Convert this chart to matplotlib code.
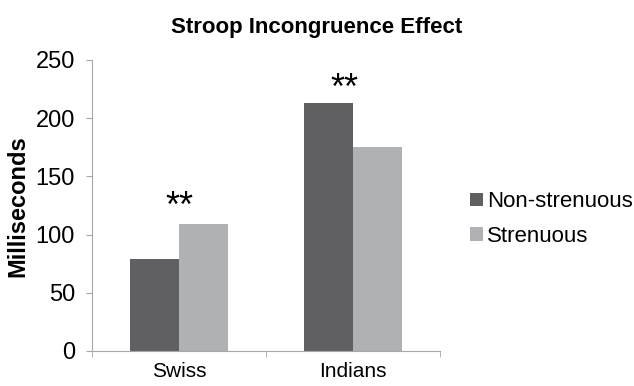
import matplotlib.pyplot as plt
import numpy as np

plt.rcParams['font.family'] = ['Liberation Sans', 'DejaVu Sans']

groups = ["Swiss", "Indians"]
series = ["Non-strenuous", "Strenuous"]
non_strenuous = [79, 213]
strenuous = [109, 175]
stars = ["**", "**"]
star_y = [123, 225]
colors = ["#606063", "#b0b1b4"]
axis_grey = "#a6a6a6"

fig = plt.figure(figsize=(6.34, 3.86), dpi=100)
ax = fig.add_axes([0.1451, 0.0907, 0.5489, 0.7539])

x = np.arange(len(groups))
w = 0.282
ax.bar(x - w / 2, non_strenuous, w, color=colors[0], label=series[0])
ax.bar(x + w / 2, strenuous, w, color=colors[1], label=series[1])

# significance stars
for xi, s, sy, dx in zip(x, stars, star_y, [0, -0.05]):
    ax.text(xi + dx, sy, s, ha="center", va="center", fontsize=26)

ax.set_xlim(-0.5, 1.5)
ax.set_ylim(0, 250)
ax.set_yticks([0, 50, 100, 150, 200, 250])
ax.set_xticks(x)
ax.set_xticklabels(groups, fontsize=15)
ax.set_xticks([-0.5, 0.5, 1.5], minor=True)
ax.tick_params(axis="x", which="major", length=0, pad=8)
ax.tick_params(axis="x", which="minor", length=4.3, color=axis_grey, direction="out")
ax.tick_params(axis="y", length=4.3, color=axis_grey, labelsize=17, pad=8)

for side in ["top", "right"]:
    ax.spines[side].set_visible(False)
for side in ["left", "bottom"]:
    ax.spines[side].set_color(axis_grey)

fig.text(17.5 / 634, 1 - 206 / 386, "Milliseconds", rotation=90, ha="center", va="center",
         fontsize=17, fontweight="bold")
fig.text(0.5, 1 - 27 / 386, "Stroop Incongruence Effect", ha="center", va="center",
         fontsize=16, fontweight="bold")

fig.legend(loc="center left", bbox_to_anchor=(470 / 634, 1 - 219 / 386), frameon=False,
           fontsize=16, borderpad=0, borderaxespad=0,
           handlelength=0.57, handleheight=0.57, handletextpad=0.2, labelspacing=0.6)

fig.savefig("out.png", dpi=100)
